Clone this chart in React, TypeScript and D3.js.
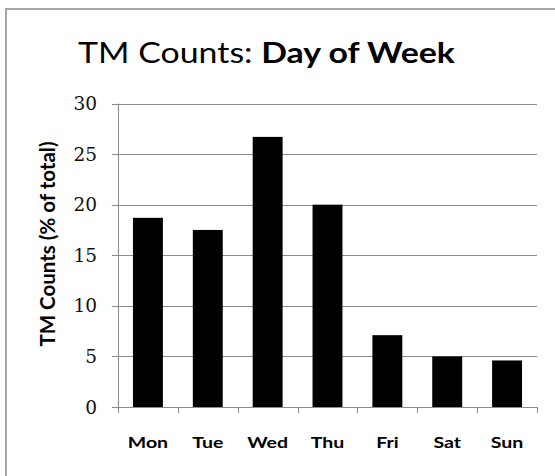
import { useRef, useEffect } from "react";
import * as d3 from "d3";

const days = ["Mon", "Tue", "Wed", "Thu", "Fri", "Sat", "Sun"];
const counts = [18.7, 17.5, 26.7, 20.0, 7.1, 5.0, 4.6];
const yTicks = [0, 5, 10, 15, 20, 25, 30];

const App = () => {
  const svgRef = useRef<SVGSVGElement>(null);

  useEffect(() => {
    const svg = d3.select(svgRef.current);
    svg.selectAll("*").remove();

    const left = 118;
    const right = 537;
    const top = 103.5;
    const bottom = 407;

    const x = d3.scaleBand().domain(days).range([left, right]).paddingInner(0.5).paddingOuter(0.25);
    const y = d3.scaleLinear().domain([0, 30]).range([bottom, top]);

    // outer frame
    svg
      .append("rect")
      .attr("x", 6)
      .attr("y", 9)
      .attr("width", 600)
      .attr("height", 600)
      .attr("fill", "white")
      .attr("stroke", "#a6a6a6")
      .attr("stroke-width", 2);

    // title, stretched to the width of the original
    const title = svg
      .append("text")
      .attr("text-anchor", "middle")
      .style("font-family", "Lato, sans-serif")
      .style("font-size", "28px")
      .style("fill", "#000");
    title.append("tspan").text("TM Counts: ");
    title.append("tspan").style("font-weight", "bold").text("Day of Week");
    const tw = (title.node() as SVGTextElement).getBBox().width || 312;
    title.attr("transform", `translate(266.5, 63) scale(${377 / tw}, 1)`);

    // gridlines + y ticks
    svg
      .append("g")
      .selectAll("line")
      .data(yTicks)
      .enter()
      .append("line")
      .attr("x1", left - 6)
      .attr("x2", right)
      .attr("y1", (d) => Math.round(y(d)) + 0.5)
      .attr("y2", (d) => Math.round(y(d)) + 0.5)
      .attr("stroke", "#8c8c8c")
      .attr("stroke-width", 1);

    svg
      .append("g")
      .selectAll("text")
      .data(yTicks)
      .enter()
      .append("text")
      .attr("x", 97)
      .attr("y", (d) => y(d))
      .attr("dy", "0.36em")
      .attr("text-anchor", "end")
      .style("font-family", "'DejaVu Serif', serif")
      .style("font-size", "18.5px")
      .style("fill", "#111")
      .text((d) => d);

    // bars
    svg
      .append("g")
      .selectAll("rect")
      .data(counts)
      .enter()
      .append("rect")
      .attr("x", (d, i) => x(days[i])!)
      .attr("y", (d) => y(d))
      .attr("width", x.bandwidth())
      .attr("height", (d) => bottom - y(d))
      .attr("fill", "#000");

    // y axis line
    svg
      .append("line")
      .attr("x1", left + 0.5)
      .attr("x2", left + 0.5)
      .attr("y1", top)
      .attr("y2", bottom + 6)
      .attr("stroke", "#8c8c8c");

    // x category ticks
    const step = x.step();
    const bounds = d3.range(days.length + 1).map((i) => left + i * step);
    svg
      .append("g")
      .selectAll("line")
      .data(bounds)
      .enter()
      .append("line")
      .attr("x1", (d) => Math.round(d) + 0.5)
      .attr("x2", (d) => Math.round(d) + 0.5)
      .attr("y1", bottom)
      .attr("y2", bottom + 6)
      .attr("stroke", "#8c8c8c");

    // x labels
    svg
      .append("g")
      .selectAll("text")
      .data(days)
      .enter()
      .append("text")
      .attr("transform", (d) => `translate(${x(d)! + x.bandwidth() / 2}, 448) scale(1.22, 1)`)
      .attr("text-anchor", "middle")
      .style("font-family", "Lato, sans-serif")
      .style("font-weight", "bold")
      .style("font-size", "16px")
      .text((d) => d);

    // y axis title
    svg
      .append("text")
      .attr("transform", `translate(55, 244) rotate(-90)`)
      .attr("text-anchor", "middle")
      .style("font-family", "Lato, sans-serif")
      .style("font-weight", "bold")
      .style("font-size", "20.5px")
      .text("TM Counts (% of total)");
  }, []);

  return (
    <div style={{ position: "absolute", left: 0, top: 0 }}>
      <svg ref={svgRef} width={555} height={476} style={{ display: "block", background: "white" }} />
    </div>
  );
};

export default App;
